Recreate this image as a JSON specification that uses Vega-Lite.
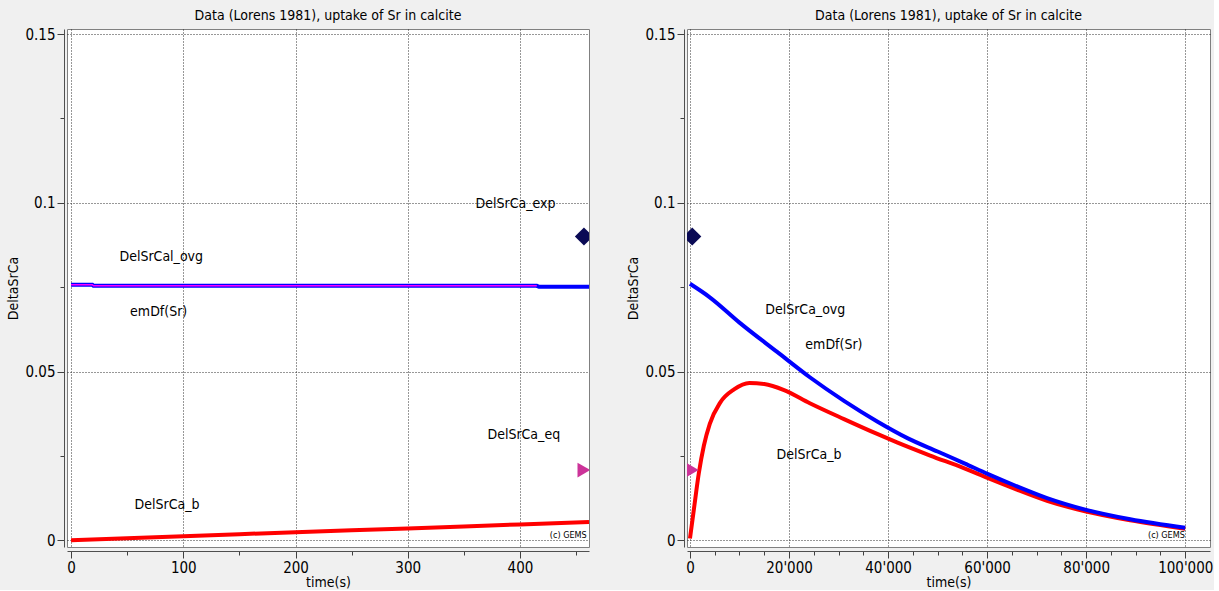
{
  "$schema": "https://vega.github.io/schema/vega-lite/v6.json",
  "background": "#f0f0f0",
  "padding": {"left": 6, "top": 8, "right": 0, "bottom": 0},
  "config": {
    "font": "DejaVu Sans Condensed",
    "view": {"fill": "white", "stroke": "#808080", "strokeWidth": 1},
    "title": {"font": "DejaVu Sans Condensed", "fontSize": 14, "fontWeight": "normal", "color": "#000000", "offset": 4, "anchor": "middle", "frame": "group"},
    "axis": {
      "labelFont": "DejaVu Sans Condensed", "labelFontSize": 15, "labelColor": "#000000",
      "titleFont": "DejaVu Sans Condensed", "titleFontSize": 14, "titleFontWeight": "normal", "titleColor": "#000000",
      "domainColor": "#505050", "tickColor": "#404040", "tickWidth": 1,
      "gridColor": "#303030", "gridDash": [1, 2], "gridWidth": 1,
      "labelPadding": 2, "labelOverlap": false, "labelFlush": false
    },
    "text": {"font": "DejaVu Sans Condensed", "fontSize": 14, "color": "#000000"}
  },
  "datasets": {
    "left_ovg": [
      {"t": 0, "v": 0.0757}, {"t": 19, "v": 0.0757}, {"t": 20, "v": 0.0754},
      {"t": 415, "v": 0.0754}, {"t": 417, "v": 0.0751}, {"t": 461.5, "v": 0.0751}
    ],
    "left_emdf": [
      {"t": 0, "v": 0.0757}, {"t": 19, "v": 0.0757}, {"t": 20, "v": 0.0754}, {"t": 415, "v": 0.0754}
    ],
    "left_b": [
      {"t": 0, "v": 0.0}, {"t": 50, "v": 0.0006}, {"t": 100, "v": 0.0012}, {"t": 150, "v": 0.0018},
      {"t": 200, "v": 0.0024}, {"t": 250, "v": 0.003}, {"t": 300, "v": 0.0035}, {"t": 350, "v": 0.0041},
      {"t": 400, "v": 0.0047}, {"t": 461.5, "v": 0.0054}
    ],
    "pts_exp": [{"t": 457, "v": 0.09}],
    "pts_eq": [{"t": 457, "v": 0.0208}],
    "left_labels": [
      {"t": 396, "v": 0.0997, "label": "DelSrCa_exp"},
      {"t": 80.4, "v": 0.0839, "label": "DelSrCal_ovg"},
      {"t": 78.1, "v": 0.0676, "label": "emDf(Sr)"},
      {"t": 403.4, "v": 0.0313, "label": "DelSrCa_eq"},
      {"t": 85.5, "v": 0.0104, "label": "DelSrCa_b"}
    ],
    "left_gems": [{"t": 443, "v": 0.0015, "label": "(c) GEMS"}],
    "right_ovg": [
      {"t": 0, "v": 0.0760}, {"t": 4000, "v": 0.0720}, {"t": 10000, "v": 0.0645}, {"t": 17600, "v": 0.0558},
      {"t": 24200, "v": 0.0483}, {"t": 31100, "v": 0.0413}, {"t": 37800, "v": 0.0352}, {"t": 44000, "v": 0.0302},
      {"t": 50000, "v": 0.0263}, {"t": 55400, "v": 0.0228}, {"t": 60200, "v": 0.0196}, {"t": 65500, "v": 0.0163},
      {"t": 72100, "v": 0.0125}, {"t": 80000, "v": 0.0090}, {"t": 88900, "v": 0.0062}, {"t": 100000, "v": 0.0037}
    ],
    "right_b": [
      {"t": 0, "v": 0.0005}, {"t": 800, "v": 0.0093}, {"t": 1800, "v": 0.0200}, {"t": 2800, "v": 0.0280},
      {"t": 4000, "v": 0.0345}, {"t": 6100, "v": 0.0408}, {"t": 8900, "v": 0.0447}, {"t": 12000, "v": 0.0466},
      {"t": 15000, "v": 0.0463}, {"t": 19000, "v": 0.0445}, {"t": 24200, "v": 0.0406}, {"t": 31100, "v": 0.0359},
      {"t": 37800, "v": 0.0315}, {"t": 41800, "v": 0.0290}, {"t": 48500, "v": 0.0251}, {"t": 55400, "v": 0.0213},
      {"t": 60200, "v": 0.0184}, {"t": 65500, "v": 0.0153}, {"t": 72100, "v": 0.0117}, {"t": 80000, "v": 0.0085},
      {"t": 88900, "v": 0.0059}, {"t": 100000, "v": 0.0034}
    ],
    "right_labels": [
      {"t": 23280, "v": 0.0683, "label": "DelSrCa_ovg"},
      {"t": 29070, "v": 0.0579, "label": "emDf(Sr)"},
      {"t": 24030, "v": 0.0253, "label": "DelSrCa_b"}
    ],
    "right_gems": [{"t": 96200, "v": 0.0017, "label": "(c) GEMS"}]
  },
  "spacing": 36,
  "hconcat": [
    {
      "width": 522,
      "height": 518,
      "title": {"text": "Data (Lorens 1981), uptake of Sr in calcite"},
      "encoding": {
        "x": {
          "field": "t", "type": "quantitative",
          "scale": {"domain": [-3.6, 461.5], "nice": false, "zero": false},
          "axis": {
            "title": "time(s)", "titlePadding": 0, "offset": 4,
            "values": [0, 50, 100, 150, 200, 250, 300, 350, 400, 450],
            "labelExpr": "datum.value % 100 === 0 ? datum.label : ''",
            "tickSize": {"condition": {"test": "datum.value % 100 === 0", "value": 7}, "value": 4},
            "gridOpacity": {"condition": {"test": "datum.value % 100 === 0", "value": 1}, "value": 0}
          }
        },
        "y": {
          "field": "v", "type": "quantitative",
          "scale": {"domain": [-0.002, 0.1515], "nice": false, "zero": false},
          "axis": {
            "title": "DeltaSrCa", "titlePadding": 4, "offset": 3,
            "values": [0, 0.025, 0.05, 0.075, 0.1, 0.125, 0.15],
            "labelExpr": "abs(datum.value*20 - round(datum.value*20)) < 1e-6 ? format(datum.value, '~g') : ''",
            "tickSize": {"condition": {"test": "abs(datum.value*20 - round(datum.value*20)) < 1e-6", "value": 7}, "value": 4},
            "gridOpacity": {"condition": {"test": "abs(datum.value*20 - round(datum.value*20)) < 1e-6", "value": 1}, "value": 0}
          }
        }
      },
      "layer": [
        {"data": {"name": "left_ovg"}, "mark": {"type": "line", "color": "#0000ff", "strokeWidth": 4, "clip": true}},
        {"data": {"name": "left_emdf"}, "mark": {"type": "line", "color": "#ff00ff", "strokeWidth": 1.5, "clip": true}},
        {"data": {"name": "left_b"}, "mark": {"type": "line", "color": "#ff0000", "strokeWidth": 4, "clip": true}},
        {"data": {"name": "pts_exp"}, "mark": {"type": "point", "shape": "diamond", "filled": true, "color": "#0a0a55", "size": 330, "opacity": 1, "clip": true}},
        {"data": {"name": "pts_eq"}, "mark": {"type": "point", "shape": "triangle-right", "filled": true, "color": "#cc3399", "size": 220, "opacity": 1, "clip": true}},
        {"data": {"name": "left_labels"}, "mark": {"type": "text", "align": "center", "baseline": "middle"}, "encoding": {"text": {"field": "label"}}},
        {"data": {"name": "left_gems"}, "mark": {"type": "text", "align": "center", "baseline": "middle", "fontSize": 9}, "encoding": {"text": {"field": "label"}}}
      ]
    },
    {
      "width": 523,
      "height": 518,
      "title": {"text": "Data (Lorens 1981), uptake of Sr in calcite"},
      "encoding": {
        "x": {
          "field": "t", "type": "quantitative",
          "scale": {"domain": [-600, 105000], "nice": false, "zero": false},
          "axis": {
            "title": "time(s)", "titlePadding": 0, "offset": 4,
            "values": [0, 5000, 10000, 15000, 20000, 25000, 30000, 35000, 40000, 45000, 50000, 55000, 60000, 65000, 70000, 75000, 80000, 85000, 90000, 95000, 100000],
            "labelExpr": "datum.value % 20000 === 0 ? replace(format(datum.value, ','), ',', \"'\") : ''",
            "tickSize": {"condition": {"test": "datum.value % 20000 === 0", "value": 7}, "value": 4},
            "gridOpacity": {"condition": {"test": "datum.value % 20000 === 0", "value": 1}, "value": 0}
          }
        },
        "y": {
          "field": "v", "type": "quantitative",
          "scale": {"domain": [-0.002, 0.1515], "nice": false, "zero": false},
          "axis": {
            "title": "DeltaSrCa", "titlePadding": 4, "offset": 3,
            "values": [0, 0.025, 0.05, 0.075, 0.1, 0.125, 0.15],
            "labelExpr": "abs(datum.value*20 - round(datum.value*20)) < 1e-6 ? format(datum.value, '~g') : ''",
            "tickSize": {"condition": {"test": "abs(datum.value*20 - round(datum.value*20)) < 1e-6", "value": 7}, "value": 4},
            "gridOpacity": {"condition": {"test": "abs(datum.value*20 - round(datum.value*20)) < 1e-6", "value": 1}, "value": 0}
          }
        }
      },
      "layer": [
        {"data": {"name": "right_b"}, "mark": {"type": "line", "color": "#ff0000", "strokeWidth": 4, "interpolate": "monotone", "clip": true}},
        {"data": {"name": "right_ovg"}, "mark": {"type": "line", "color": "#0000ff", "strokeWidth": 4, "interpolate": "monotone", "clip": true}},
        {"data": {"name": "pts_exp"}, "mark": {"type": "point", "shape": "diamond", "filled": true, "color": "#0a0a55", "size": 330, "opacity": 1, "clip": true}},
        {"data": {"name": "pts_eq"}, "mark": {"type": "point", "shape": "triangle-right", "filled": true, "color": "#cc3399", "size": 220, "opacity": 1, "clip": true}},
        {"data": {"name": "right_labels"}, "mark": {"type": "text", "align": "center", "baseline": "middle"}, "encoding": {"text": {"field": "label"}}},
        {"data": {"name": "right_gems"}, "mark": {"type": "text", "align": "center", "baseline": "middle", "fontSize": 9}, "encoding": {"text": {"field": "label"}}}
      ]
    }
  ]
}
